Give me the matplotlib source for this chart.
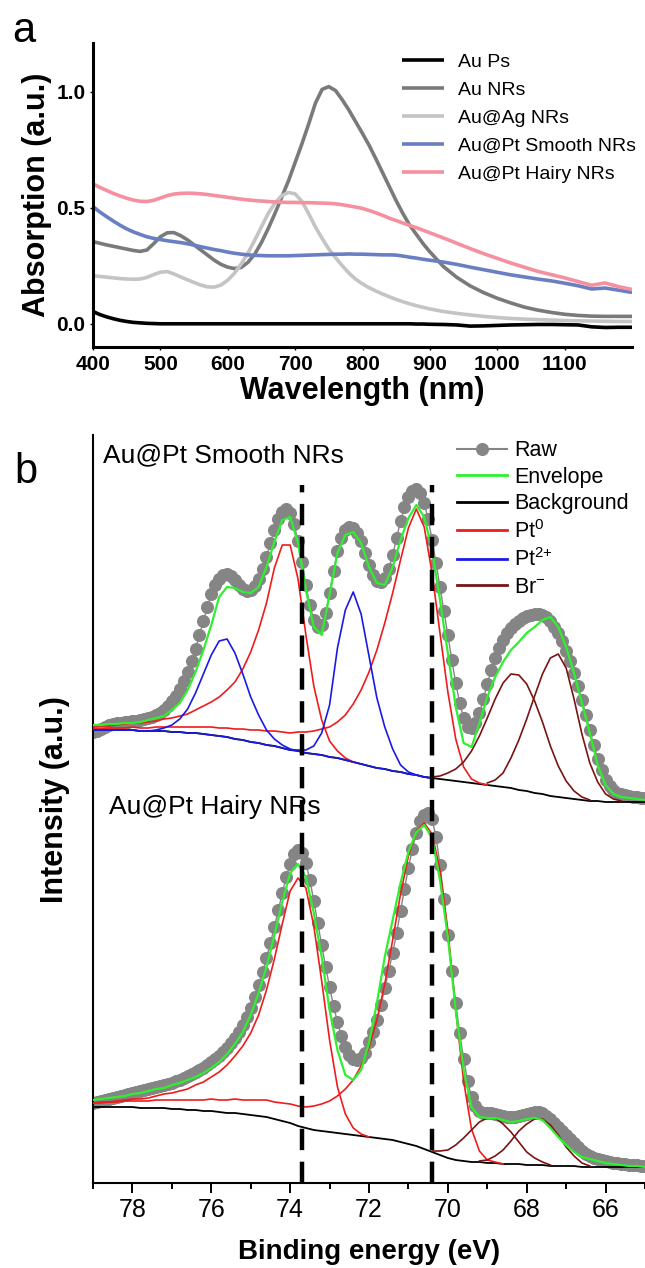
import numpy as np
import matplotlib
matplotlib.use("Agg")
import matplotlib.pyplot as plt
from matplotlib.lines import Line2D

plt.rcParams.update({
    "font.family": ["Liberation Sans", "DejaVu Sans"],
    "mathtext.default": "regular",
})

# ---------------- panel a: UV-vis absorption ----------------
wavelength = list(range(400, 901, 10)) + list(range(920, 1201, 20))

au_ps = [.053, .040, .030, .022, .015, .010, .006, .004, .002, .001,
         0, 0, 0, 0, 0, 0, 0, 0, 0, 0,
         0, 0, 0, 0, 0, 0, 0, 0, 0, 0,
         0, 0, 0, 0, 0, 0, 0, 0, 0, 0,
         0, 0, 0, 0, 0, 0, 0, 0, -.001, -.001,
         -.002,
         -.003, -.005, -.010, -.009, -.007, -.005, -.004, -.003, -.003, -.004,
         -.005, -.013, -.016, -.015, -.015]
au_nrs = [.354, .347, .340, .334, .328, .322, .316, .312, .318, .345,
          .375, .392, .393, .380, .362, .340, .318, .296, .274, .256,
          .244, .238, .243, .265, .300, .350, .410, .475, .545, .615,
          .695, .775, .860, .950, 1.010, 1.022, 1.005, .965, .920, .870,
          .820, .768, .710, .650, .590, .530, .475, .425, .385, .345,
          .310,
          .247, .200, .163, .134, .110, .090, .072, .059, .049, .041,
          .036, .033, .032, .032, .032]
au_ag_nrs = [.207, .204, .201, .198, .195, .193, .192, .193, .200, .212,
             .222, .225, .215, .202, .190, .178, .167, .159, .158, .167,
             .188, .218, .258, .305, .360, .418, .475, .520, .552, .566,
             .560, .528, .475, .418, .368, .322, .285, .250, .218, .192,
             .172, .155, .141, .128, .116, .105, .095, .086, .078, .071,
             .064,
             .053, .045, .038, .032, .027, .023, .020, .018, .016, .014,
             .013, .012, .011, .010, .010]
smooth_nrs = [.505, .482, .462, .443, .425, .409, .396, .385, .375, .368,
              .363, .358, .354, .350, .345, .339, .332, .326, .320, .315,
              .309, .304, .300, .297, .295, .294, .293, .293, .293, .293,
              .294, .295, .296, .297, .298, .299, .300, .300, .301, .300,
              .300, .299, .298, .297, .297, .296, .292, .287, .283, .278,
              .274,
              .266, .256, .244, .233, .222, .211, .202, .193, .185, .175,
              .164, .150, .154, .145, .135]
hairy_nrs = [.603, .588, .575, .562, .551, .541, .533, .528, .527, .532,
             .542, .552, .559, .562, .563, .562, .560, .557, .553, .549,
             .545, .541, .537, .534, .531, .529, .527, .525, .524, .523,
             .523, .522, .522, .521, .520, .519, .517, .513, .508, .503,
             .497, .488, .478, .467, .455, .445, .434, .424, .414, .403,
             .392,
             .370, .347, .324, .302, .282, .262, .244, .226, .212, .198,
             .182, .166, .176, .160, .148]

uv_labels = ["Au Ps", "Au NRs", "Au@Ag NRs", "Au@Pt Smooth NRs", "Au@Pt Hairy NRs"]
uv_colors = ["black", "#7a7a7a", "#c4c4c4", "#6a7fc2", "#f4909f"]

# ---------------- panel b: Pt 4f XPS ----------------
raw_energy = np.linspace(79.0, 65.0, 141)   # 0.1 eV steps
fit_energy = np.linspace(79.0, 65.0, 71)    # 0.2 eV steps

smooth_raw = [451, 452, 454, 456, 458, 459, 460, 460, 461, 461,
              462, 462, 463, 464, 465, 466, 468, 470, 473, 477,
              482, 487, 494, 502, 511, 522, 534, 548, 562, 576,
              589, 598, 604, 608, 609, 607, 603, 598, 594, 592,
              593, 597, 604, 614, 626, 640, 653, 664, 671, 674,
              670, 659, 642, 621, 598, 578, 563, 556, 558, 570,
              590, 612, 632, 645, 653, 656, 655, 650, 642, 630,
              618, 608, 602, 601, 605, 614, 628, 645, 662, 676,
              686, 692, 694, 690, 680, 664, 643, 620, 596, 572,
              548, 523, 500, 480, 465, 456, 455, 460, 470, 484,
              499, 513, 525, 535, 543, 550, 555, 559, 562, 565,
              567, 568, 569, 569, 568, 566, 562, 556, 550, 542,
              532, 522, 510, 497, 483, 468, 453, 438, 424, 413,
              403, 397, 393, 390, 389, 388, 387, 386, 386, 385,
              385]
smooth_env = [458, 458, 459, 459, 460, 460, 461, 463, 465, 467,
              473, 480, 493, 511, 533, 558, 586, 596, 595, 591,
              590, 596, 616, 641, 663, 666, 640, 593, 556, 548,
              588, 630, 648, 651, 640, 616, 600, 598, 616, 643,
              665, 678, 666, 633, 583, 530, 476, 440, 436, 460,
              486, 506, 521, 533, 541, 550, 556, 563, 566, 556,
              536, 510, 480, 450, 418, 398, 389, 386, 385, 384,
              383]
smooth_bg = [453, 453, 453, 453, 453, 453, 452, 452, 452, 452,
             451, 451, 450, 450, 449, 448, 447, 446, 444, 443,
             441, 440, 438, 437, 435, 433, 432, 430, 429, 428,
             426, 425, 423, 421, 419, 417, 415, 414, 412, 411,
             409, 408, 406, 405, 404, 403, 402, 401, 400, 399,
             398, 397, 396, 395, 393, 392, 390, 389, 387, 386,
             385, 384, 383, 382, 382, 381, 381, 381, 381, 381,
             381]
# fitted components: (start energy, heights above background every 0.2 eV)
smooth_pt0 = [
    (79.0, [3, 4, 4, 5, 6, 7, 8, 9, 10, 12, 14, 16, 19, 23, 28, 33, 39, 47, 57, 71,
            90, 113, 142, 178, 203, 205, 172, 118, 68, 35, 16, 7, 2, 0]),
    (79.0, [1, 1, 2, 2, 2, 3, 3, 3, 4, 4, 5, 5, 6, 6, 7, 8, 8, 9, 10, 11,
            12, 13, 14, 15, 16, 17, 19, 21, 23, 26, 30, 36, 45, 58, 74, 94, 118, 146, 178, 212,
            246, 266, 250, 205, 146, 88, 42, 15, 4, 1, 0]),
]
smooth_pt2 = [
    (79.0, [0, 0, 0, 0, 0, 0, 0, 0, 1, 3, 7, 13, 24, 40, 60, 80, 95, 98, 86, 66,
            45, 28, 15, 7, 3, 1, 0, 0, 0, 0, 0, 0, 0, 0, 0, 0, 0, 0, 0, 0,
            0, 0, 0, 0]),
    (79.0, [0, 0, 0, 0, 0, 0, 0, 0, 0, 0, 0, 0, 0, 0, 0, 0, 0, 0, 0, 0,
            0, 0, 0, 0, 0, 0, 1, 3, 8, 22, 52, 110, 150, 170, 150, 110, 70, 42, 22, 7,
            2, 0, 0, 0]),
]
smooth_br = [
    (70.4, [1, 3, 7, 12, 20, 32, 48, 67, 87, 104, 114, 115, 107, 92, 72, 50, 31, 17, 8, 3, 1]),
    (69.0, [2, 6, 14, 30, 50, 72, 97, 120, 138, 143, 130, 100, 66, 38, 19, 8, 3, 1]),
]

hairy_raw = [80, 81, 82, 83, 84, 85, 86, 87, 88, 89,
             90, 91, 92, 93, 94, 95, 96, 97, 98, 99,
             100, 102, 103, 105, 107, 109, 111, 113, 115, 118,
             121, 124, 127, 131, 135, 140, 145, 151, 158, 166,
             175, 186, 198, 211, 225, 240, 256, 273, 290, 306,
             319, 329, 333, 330, 320, 303, 282, 260, 238, 216,
             196, 177, 161, 147, 136, 128, 124, 123, 125, 130,
             141, 151, 163, 178, 195, 212, 230, 250, 272, 294,
             315, 334, 350, 362, 368, 370, 364, 346, 318, 284,
             248, 212, 180, 150, 124, 102, 86, 77, 72, 70,
             70, 70, 69, 68, 67, 66, 66, 66, 67, 68,
             69, 70, 71, 71, 70, 67, 64, 60, 56, 52,
             48, 44, 40, 36, 32, 29, 27, 25, 24, 23,
             22, 21, 20, 20, 19, 19, 18, 18, 18, 17,
             17]
hairy_env = [83, 84, 85, 86, 87, 89, 90, 92, 94, 95,
             98, 100, 103, 106, 110, 115, 121, 129, 139, 151,
             168, 190, 216, 248, 281, 310, 319, 306, 270, 226,
             173, 133, 108, 103, 113, 140, 180, 226, 263, 300,
             331, 351, 358, 345, 303, 246, 173, 113, 76, 66,
             65, 65, 63, 61, 62, 64, 65, 63, 55, 46,
             38, 31, 26, 24, 22, 20, 19, 18, 17, 17,
             16]
hairy_bg = [76, 76, 76, 76, 76, 76, 75, 75, 75, 75,
            74, 74, 73, 73, 72, 72, 71, 70, 70, 69,
            68, 67, 66, 64, 62, 60, 57, 55, 53, 52,
            51, 50, 49, 48, 47, 46, 45, 44, 43, 41,
            39, 37, 34, 31, 28, 25, 23, 22, 21, 21,
            20, 20, 19, 19, 19, 18, 18, 18, 17, 17,
            17, 17, 16, 16, 16, 16, 16, 16, 16, 16,
            16]
hairy_pt0 = [
    (79.0, [4, 5, 5, 6, 7, 8, 9, 10, 12, 14, 16, 18, 21, 25, 29, 34, 40, 48, 57, 68,
            82, 101, 127, 160, 197, 232, 248, 240, 204, 150, 92, 46, 20, 7, 2, 0]),
    (79.0, [4, 4, 5, 5, 6, 6, 7, 7, 8, 8, 9, 9, 10, 10, 11, 12, 12, 13, 14, 14,
            15, 16, 17, 17, 18, 19, 20, 21, 24, 27, 31, 37, 45, 55, 70, 90, 118, 155, 200, 248,
            288, 315, 326, 318, 285, 228, 150, 80, 33, 11, 3, 1, 0]),
]
hairy_br = [
    (70.4, [1, 4, 8, 15, 23, 32, 40, 45, 45, 40, 32, 22, 13, 7, 3, 1]),
    (69.2, [1, 3, 7, 14, 23, 33, 41, 46, 46, 41, 31, 19, 10, 4, 1]),
]

ref_lines = [73.7, 70.4]

RAW_C, ENV_C, PT0_C, PT2_C, BR_C = "#858585", "#2ef02e", "#ee1c1c", "#1a1ae6", "#7a1414"


def on_background(bg, start, heights):
    i0 = int(round((79.0 - start) / 0.2))
    n = len(heights)
    return fit_energy[i0:i0 + n], np.asarray(bg[i0:i0 + n]) + np.asarray(heights)


W, H = 645, 1268
fig = plt.figure(figsize=(W / 100, H / 100), dpi=100)


def axes_px(left, top, right, bottom):
    return fig.add_axes([left / W, 1 - bottom / H, (right - left) / W, (bottom - top) / H])


# ---------- panel a ----------
ax1 = axes_px(93, 43, 632, 347)
for y, lab, col in zip([au_ps, au_nrs, au_ag_nrs, smooth_nrs, hairy_nrs], uv_labels, uv_colors):
    ax1.plot(wavelength, y, color=col, lw=2.6, label=lab, solid_capstyle="butt")
ax1.set_xlim(400, 1200)
ax1.set_ylim(-0.1, 1.21)
ax1.set_xticks(range(400, 1101, 100))
ax1.set_yticks([0.0, 0.5, 1.0])
ax1.yaxis.set_major_formatter(plt.FormatStrFormatter("%.1f"))
for s in ["top", "right"]:
    ax1.spines[s].set_visible(False)
for s in ["left", "bottom"]:
    ax1.spines[s].set_linewidth(2.2)
ax1.tick_params(length=2.5, width=1, pad=3, labelsize=15)
for t in ax1.get_xticklabels() + ax1.get_yticklabels():
    t.set_fontweight("bold")
ax1.set_xlabel("Wavelength (nm)", fontsize=22, fontweight="bold", va="center")
ax1.xaxis.set_label_coords(0.5, -0.146)
ax1.set_ylabel("Absorption (a.u.)", fontsize=22, fontweight="bold", va="center")
ax1.yaxis.set_label_coords(-0.104, 0.5)
ax1.legend(loc="upper left", bbox_to_anchor=(0.573, 0.965), frameon=False, fontsize=14,
           handlelength=2.15, handletextpad=0.75, labelspacing=0.53,
           borderpad=0, borderaxespad=0)

# ---------- panel b ----------
ax2 = axes_px(93, 435, 645, 1183)
for raw in [smooth_raw, hairy_raw]:
    ax2.plot(raw_energy, raw, "-o", color=RAW_C, ms=8.4, mec=RAW_C, lw=1, zorder=1)
for bg, pt0, pt2, br in [(smooth_bg, smooth_pt0, smooth_pt2, smooth_br),
                         (hairy_bg, hairy_pt0, [], hairy_br)]:
    ax2.plot(fit_energy, bg, color="black", lw=1.3, zorder=2)
    for comps, col in [(pt0, PT0_C), (pt2, PT2_C), (br, BR_C)]:
        for start, h in comps:
            e, y = on_background(bg, start, h)
            ax2.plot(e, y, color=col, lw=1.2, zorder=3)
for env in [smooth_env, hairy_env]:
    ax2.plot(fit_energy, env, color=ENV_C, lw=1.6, zorder=4)
for xv in ref_lines:
    ax2.plot([xv, xv], [0, 698], color="black", lw=3.2, linestyle=(0, (4.8, 2.6)), zorder=5)

ax2.set_xlim(79, 65)
ax2.set_ylim(0, 748)
ax2.set_xticks(range(78, 65, -2))
ax2.set_xticks(range(79, 64, -2), minor=True)
ax2.set_yticks([])
for s in ["top", "right"]:
    ax2.spines[s].set_visible(False)
for s in ["left", "bottom"]:
    ax2.spines[s].set_linewidth(1.5)
ax2.tick_params(axis="x", which="major", length=7, width=1.4, pad=4, labelsize=18)
ax2.tick_params(axis="x", which="minor", length=4.3, width=1.4)
ax2.set_xlabel("Binding energy (eV)", fontsize=20, fontweight="bold", va="center")
ax2.xaxis.set_label_coords(0.5, -0.092)
ax2.set_ylabel("Intensity (a.u.)", fontsize=22, fontweight="bold", va="center")
ax2.yaxis.set_label_coords(-0.068, 0.512)

ax2.text(0.018, 0.973, "Au@Pt Smooth NRs", transform=ax2.transAxes, fontsize=19,
         ha="left", va="center")
ax2.text(0.029, 0.503, "Au@Pt Hairy NRs", transform=ax2.transAxes, fontsize=19,
         ha="left", va="center")

handles = [
    Line2D([], [], color=RAW_C, lw=1.5, marker="o", ms=8.4, mec=RAW_C),
    Line2D([], [], color=ENV_C, lw=2),
    Line2D([], [], color="black", lw=2),
    Line2D([], [], color=PT0_C, lw=2),
    Line2D([], [], color=PT2_C, lw=2),
    Line2D([], [], color=BR_C, lw=2),
]
names = ["Raw", "Envelope", "Background", r"Pt$^{0}$", r"Pt$^{2{+}}$", r"Br$^{-}$"]
ax2.legend(handles, names, loc="upper left", bbox_to_anchor=(0.659, 0.993), frameon=False,
           fontsize=15.5, numpoints=1, handlelength=2.35, handletextpad=0.3,
           labelspacing=0.26, borderpad=0, borderaxespad=0)

fig.text(12 / W, 1 - 42 / H, "a", fontsize=30, ha="left", va="baseline")
fig.text(14 / W, 1 - 483 / H, "b", fontsize=30, ha="left", va="baseline")

fig.savefig("out.png", dpi=100)
